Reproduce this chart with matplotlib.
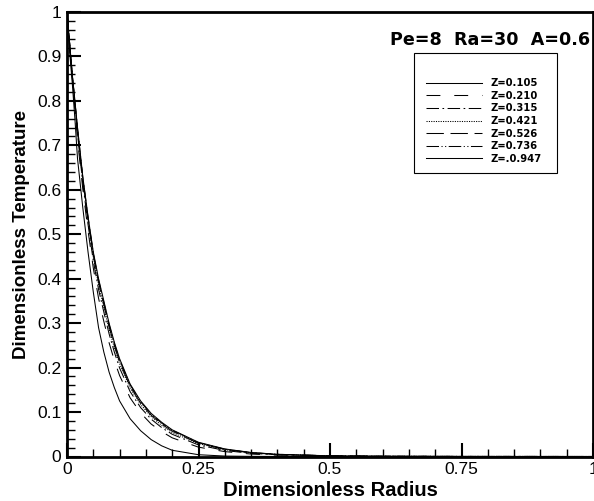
import matplotlib
matplotlib.use("Agg")
import matplotlib.pyplot as plt
from matplotlib.patches import Rectangle
from matplotlib.ticker import MultipleLocator

plt.rcParams['font.family'] = ['Liberation Sans', 'DejaVu Sans']
plt.rcParams['lines.scale_dashes'] = False

# Dimensionless radius sample points
radius = [0, 0.005, 0.01, 0.015, 0.02, 0.03, 0.04, 0.05, 0.06, 0.07, 0.08, 0.09, 0.10,
          0.12, 0.14, 0.16, 0.18, 0.20, 0.25, 0.30, 0.35, 0.40, 0.50, 0.60, 0.75, 1.0]

t_z0105 = [1.0, 0.91, 0.84, 0.76, 0.67, 0.56, 0.46, 0.37, 0.29, 0.235, 0.19, 0.155, 0.125,
           0.085, 0.058, 0.038, 0.024, 0.014, 0.004, 0.001, 0.0003, 0.0001, 0.0, 0.0, 0.0, 0.0]
t_z0210 = [1.0, 0.922, 0.852, 0.784, 0.712, 0.602, 0.508, 0.424, 0.356, 0.304, 0.256, 0.216, 0.182,
           0.132, 0.098, 0.073, 0.056, 0.042, 0.021, 0.011, 0.0055, 0.003, 0.0009, 0.0003, 0.0001, 0.0]
t_z0315 = [1.0, 0.926, 0.856, 0.791, 0.725, 0.615, 0.522, 0.440, 0.376, 0.325, 0.276, 0.235, 0.199,
           0.146, 0.110, 0.084, 0.065, 0.050, 0.026, 0.0135, 0.007, 0.004, 0.0012, 0.0004, 0.0001, 0.0]
t_z0421 = [1.0, 0.928, 0.858, 0.795, 0.732, 0.622, 0.530, 0.449, 0.387, 0.336, 0.287, 0.245, 0.209,
           0.154, 0.117, 0.090, 0.070, 0.054, 0.029, 0.015, 0.008, 0.0045, 0.0013, 0.0004, 0.0001, 0.0]
t_z0526 = [1.0, 0.929, 0.859, 0.797, 0.735, 0.625, 0.534, 0.454, 0.392, 0.342, 0.292, 0.250, 0.213,
           0.158, 0.120, 0.093, 0.073, 0.057, 0.030, 0.016, 0.0084, 0.0047, 0.0014, 0.0005, 0.0001, 0.0]
t_z0736 = [1.0, 0.929, 0.859, 0.799, 0.738, 0.628, 0.538, 0.457, 0.397, 0.347, 0.297, 0.254, 0.217,
           0.161, 0.123, 0.095, 0.075, 0.059, 0.031, 0.0165, 0.0087, 0.0049, 0.0015, 0.0005, 0.0001, 0.0]
t_z0947 = [1.0, 0.93, 0.86, 0.80, 0.74, 0.63, 0.54, 0.46, 0.40, 0.35, 0.30, 0.257, 0.22,
           0.163, 0.125, 0.097, 0.077, 0.060, 0.032, 0.017, 0.009, 0.005, 0.0015, 0.0005, 0.0001, 0.0]

labels = ["Z=0.105", "Z=0.210", "Z=0.315", "Z=0.421", "Z=0.526", "Z=0.736", "Z=.0.947"]
series = [t_z0105, t_z0210, t_z0315, t_z0421, t_z0526, t_z0736, t_z0947]
styles = ['-', (0, (10, 10)), (0, (9, 2.5, 1.2, 2.5)), (0, (0.8, 0.9)),
          (0, (12.5, 4.8)), (0, (9, 1.8, 0.8, 1.8, 0.8, 1.8)), '-']

xticks = [0, 0.25, 0.5, 0.75, 1]
xticklabels = ["0", "0.25", "0.5", "0.75", "1"]
yticks = [0, 0.1, 0.2, 0.3, 0.4, 0.5, 0.6, 0.7, 0.8, 0.9, 1]
yticklabels = ["0", "0.1", "0.2", "0.3", "0.4", "0.5", "0.6", "0.7", "0.8", "0.9", "1"]

fig = plt.figure(figsize=(5.94, 5.01), dpi=100)
ax = fig.add_axes([67 / 594, 1 - 456.5 / 501, 526 / 594, 444.5 / 501])

handles = []
for ys, ls, lab in zip(series, styles, labels):
    h, = ax.plot(radius, ys, color='black', linestyle=ls, linewidth=0.75, label=lab)
    handles.append(h)

ax.set_xlim(0, 1)
ax.set_ylim(0, 1)
ax.set_xticks(xticks)
ax.set_xticklabels(xticklabels)
ax.set_yticks(yticks)
ax.set_yticklabels(yticklabels)
ax.xaxis.set_minor_locator(MultipleLocator(0.05))
ax.yaxis.set_minor_locator(MultipleLocator(0.02))
ax.tick_params(which='major', direction='in', length=10, width=1.5, labelsize=12.5, pad=4,
               top=False, right=False)
ax.tick_params(which='minor', direction='in', length=6, width=1.0, top=False, right=False)
for s in ax.spines.values():
    s.set_linewidth(2)

ax.set_xlabel("Dimensionless Radius", fontsize=14.5, fontweight='bold', labelpad=3)
ax.set_ylabel("Dimensionless Temperature", fontsize=13.5, fontweight='bold', labelpad=5)

ax.text(0.994, 0.926, "Pe=8  Ra=30  A=0.6", transform=ax.transAxes, ha='right', va='baseline',
        fontsize=12.6, fontweight='bold', family=['DejaVu Sans'])

# legend frame
ax.add_patch(Rectangle((0.66, 0.638), 0.272, 0.270, transform=ax.transAxes, fill=False,
                       edgecolor='black', linewidth=0.8, zorder=5))
leg = ax.legend(handles=handles, loc='upper left', bbox_to_anchor=(0.683, 0.851),
                frameon=False, borderpad=0, borderaxespad=0, handlelength=5.6,
                handletextpad=0.85, labelspacing=0.26,
                prop={'size': 7.2, 'weight': 'bold', 'family': 'DejaVu Sans'})

fig.savefig("out.png", dpi=100)
